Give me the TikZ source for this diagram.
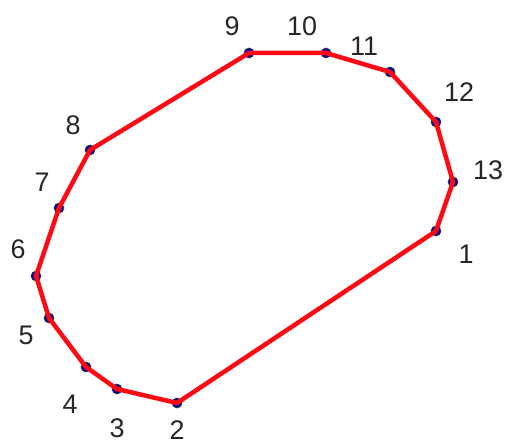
\documentclass[tikz,border=0pt]{standalone}
\usepackage{fontspec}
\setmainfont{Liberation Sans}
\usepackage{xcolor}
\usetikzlibrary{calc}
\definecolor{hullred}{HTML}{FF0A14}
\definecolor{ptblue}{HTML}{0A0AA0}
\tikzset{
  vtx/.style={circle, fill=ptblue, draw=black!80, line width=0.6bp, inner sep=0pt, minimum size=10bp},
  num/.style={font=\fontsize{27}{30}\selectfont, inner sep=0pt, text=black!85},
  hull/.style={draw=hullred, line width=4.5bp, line join=round},
}

\begin{document}
\begin{tikzpicture}[x=1bp,y=-1bp]
  \useasboundingbox (0,0) rectangle (506,446);
  % hull vertices and their numbers
  \foreach \i/\x/\y/\lx/\ly in {1/436/231/466/254, 2/177/403/177/430, 3/117/389/117/428,
      4/86/367/70/404, 5/49/318/26/335, 6/36/276/18/249, 7/59/208/42/182, 8/90/150/73/125,
      9/249/53/232/26, 10/326/53/302/26, 11/390/72/364/46, 12/436/122/459/92, 13/453/182/488/170} {
    \node[vtx] (v\i) at (\x,\y) {};
    \node[num] (n\i) at (\lx,\ly) {\i};
  }
  \draw[hull] (v1.center) -- (v2.center) -- (v3.center) -- (v4.center) -- (v5.center)
    -- (v6.center) -- (v7.center) -- (v8.center) -- (v9.center) -- (v10.center)
    -- (v11.center) -- (v12.center) -- (v13.center) -- cycle;
\end{tikzpicture}
\end{document}
